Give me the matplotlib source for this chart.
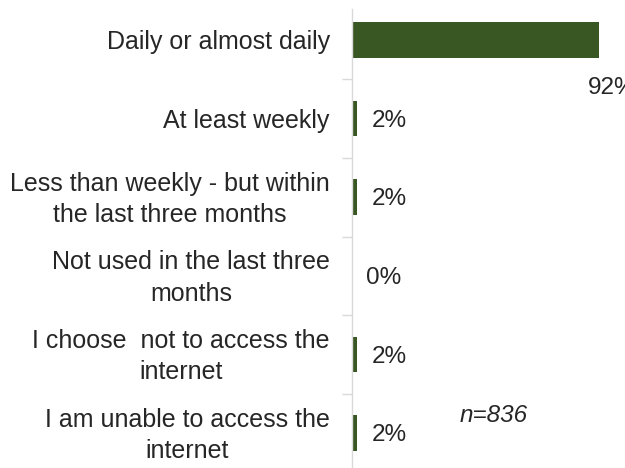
import numpy as np
import matplotlib
matplotlib.use("Agg")
import matplotlib.pyplot as plt
import matplotlib.transforms as mtransforms

plt.rcParams['font.family'] = ['Liberation Sans', 'DejaVu Sans']

categories = [
    "Daily or almost daily",
    "At least weekly",
    "Less than weekly - but within\nthe last three months",
    "Not used in the last three\nmonths",
    "I choose  not to access the\ninternet",
    "I am unable to access the\ninternet",
]
values = [92, 2, 2, 0, 2, 2]
labels = ["92%", "2%", "2%", "0%", "2%", "2%"]
sample_note = "n=836"

bar_color = "#385723"
text_color = "#262626"
fs = 17.5

fig = plt.figure(figsize=(6.25, 4.68), dpi=100)
W, H = 625, 468
# plot area: axis line at x=352, six bands of ~78.7px
ax = fig.add_axes([352 / W, (H - 472.5) / H, (W - 352) / W, 472 / H])

y = np.arange(len(categories))
ax.barh(y, values, height=0.45, color=bar_color)
ax.set_ylim(len(categories) - 0.5, -0.5)
ax.set_xlim(0, (W - 352) / 2.685)

for spine in ["top", "right", "bottom"]:
    ax.spines[spine].set_visible(False)
ax.spines["left"].set_color("#d9d9d9")
ax.spines["left"].set_linewidth(1.0)
ax.spines["left"].set_bounds(-0.39, len(categories) - 0.5)

ax.set_xticks([])
ax.set_yticks(y)
ax.set_yticklabels(categories, fontsize=18, color=text_color,
                   multialignment="center", linespacing=1.38)
ax.tick_params(axis="y", which="major", length=0, pad=16)
ax.set_yticks(np.arange(0.5, len(categories) - 1, 1.0), minor=True)
ax.tick_params(axis="y", which="minor", length=7, color="#d9d9d9", width=1.0)

# two-line labels sit a little high, centred on the bar
lift = mtransforms.ScaledTranslation(0, 4 / 100, fig.dpi_scale_trans)
for t in ax.get_yticklabels():
    if "\n" in t.get_text():
        t.set_transform(t.get_transform() + lift)

for i, (v, lab) in enumerate(zip(values, labels)):
    if i == 0:
        ax.annotate(lab, xy=(v, i), xytext=(-8, -35), textcoords="offset points",
                    ha="left", va="center", fontsize=fs, color=text_color,
                    annotation_clip=False)
    else:
        ax.annotate(lab, xy=(v, i), xytext=(10, -1.5), textcoords="offset points",
                    ha="left", va="center", fontsize=fs, color=text_color)

ax.text(40.2, 4.77, sample_note, fontsize=fs, style="italic", color=text_color,
        ha="left", va="center")

fig.savefig("out.png", dpi=100)
